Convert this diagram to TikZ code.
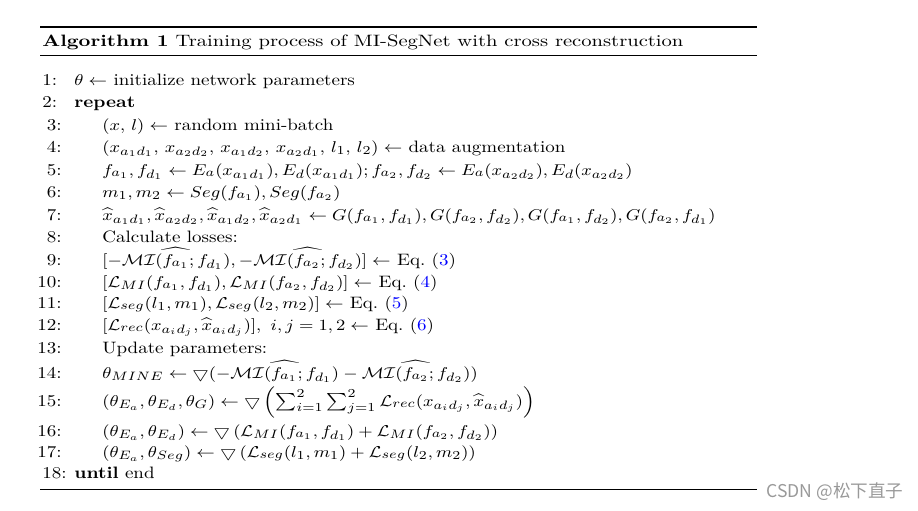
\documentclass[tikz,border=0pt]{standalone}
\usepackage{fontspec}
\usepackage{graphicx}
\newfontfamily\cjk{Noto Sans CJK SC}
\usetikzlibrary{positioning}

\begin{document}
\begin{tikzpicture}[
x=0.5pt, y=-0.5pt,
txt/.style={inner sep=0pt, font=\fontsize{9.5}{12}\selectfont},
num/.style={txt},
body/.style={txt, anchor=base west},
captext/.style={inner sep=0pt, anchor=base west, font=\fontsize{10.3}{12}\selectfont},
toprule/.style={line width=0.8pt},
midrule/.style={line width=0.4pt},
wmark/.style={inner sep=0pt, text=black!40, font=\cjk\fontsize{8.8}{10}\selectfont}
]

\def\eq#1{Eq.~(\textcolor{blue}{#1})}
\def\sq#1{\scalebox{1}[0.87]{#1}}
\def\xl{40}
\def\xr{757}

\useasboundingbox (0,0) rectangle (918,510);

%%% rules and caption
\draw[toprule] (\xl,27) -- (\xr,27);
\node[captext] (caption) at (42,46) {\scalebox{1}[0.8]{\textbf{Algorithm 1} Training process of MI-SegNet with cross reconstruction}};
\draw[midrule] (\xl,55) -- (\xr,55);
\draw[midrule] (\xl,489) -- (\xr,489);

%%% lines
\foreach \n/\y/\lvl/\txt in {
	1/85/0/{$\theta \leftarrow$ initialize network parameters},
	2/107/0/{\textbf{repeat}},
	3/130/1/{$(x,\, l) \leftarrow$ random mini-batch},
	4/152/1/{$(x_{a_1d_1},\, x_{a_2d_2},\, x_{a_1d_2},\, x_{a_2d_1},\, l_1,\, l_2) \leftarrow$ data augmentation},
	5/175/1/{$f_{a_1}, f_{d_1} \leftarrow E_a(x_{a_1d_1}), E_d(x_{a_1d_1}); f_{a_2}, f_{d_2} \leftarrow E_a(x_{a_2d_2}), E_d(x_{a_2d_2})$},
	6/197/1/{$m_1, m_2 \leftarrow Seg(f_{a_1}), Seg(f_{a_2})$},
	7/220/1/{$\widehat{x}_{a_1d_1}, \widehat{x}_{a_2d_2}, \widehat{x}_{a_1d_2}, \widehat{x}_{a_2d_1} \leftarrow G(f_{a_1}, f_{d_1}), G(f_{a_2}, f_{d_2}), G(f_{a_1}, f_{d_2}), G(f_{a_2}, f_{d_1})$},
	8/242/1/{Calculate losses:},
	9/265/1/{$[-\widehat{\mathcal{MI}(f_{a_1}; f_{d_1})}, -\widehat{\mathcal{MI}(f_{a_2}; f_{d_2})}] \leftarrow$ \eq{3}},
	10/287/1/{$[\mathcal{L}_{MI}(f_{a_1}, f_{d_1}), \mathcal{L}_{MI}(f_{a_2}, f_{d_2})] \leftarrow$ \eq{4}},
	11/308/1/{$[\mathcal{L}_{seg}(l_1, m_1), \mathcal{L}_{seg}(l_2, m_2)] \leftarrow$ \eq{5}},
	12/330/1/{$[\mathcal{L}_{rec}(x_{a_id_j}, \widehat{x}_{a_id_j})],\ i,j = 1,2 \leftarrow$ \eq{6}},
	13/353/1/{Update parameters:},
	14/378/1/{$\theta_{MINE} \leftarrow \bigtriangledown(-\widehat{\mathcal{MI}(f_{a_1}; f_{d_1})} - \widehat{\mathcal{MI}(f_{a_2}; f_{d_2})})$},
	15/406/1/{$(\theta_{E_a}, \theta_{E_d}, \theta_G) \leftarrow \bigtriangledown\left(\sum_{i=1}^2 \sum_{j=1}^2 \mathcal{L}_{rec}(x_{a_id_j}, \widehat{x}_{a_id_j})\right)$},
	16/436/1/{$(\theta_{E_a}, \theta_{E_d}) \leftarrow \bigtriangledown\,(\mathcal{L}_{MI}(f_{a_1}, f_{d_1}) + \mathcal{L}_{MI}(f_{a_2}, f_{d_2}))$},
	17/457/1/{$(\theta_{E_a}, \theta_{Seg}) \leftarrow \bigtriangledown\,(\mathcal{L}_{seg}(l_1, m_1) + \mathcal{L}_{seg}(l_2, m_2))$},
	18/478/0/{\textbf{until} end}
	}{
	\ifnum\lvl=0
		\node[num, anchor=base west] (num\n) at (42,\y) {\sq{\n:}};
		\node[body] (line\n) at (74,\y) {\sq{\txt}};
	\else
		\node[num, anchor=base east] (num\n) at (62,\y) {\sq{\n:}};
		\node[body] (line\n) at (102,\y) {\sq{\txt}}; \fi
	}

%%% watermark
\node[wmark, anchor=base west] (csdn) at (766,497) {CSDN @松下直子};

\end{tikzpicture}
\end{document}
